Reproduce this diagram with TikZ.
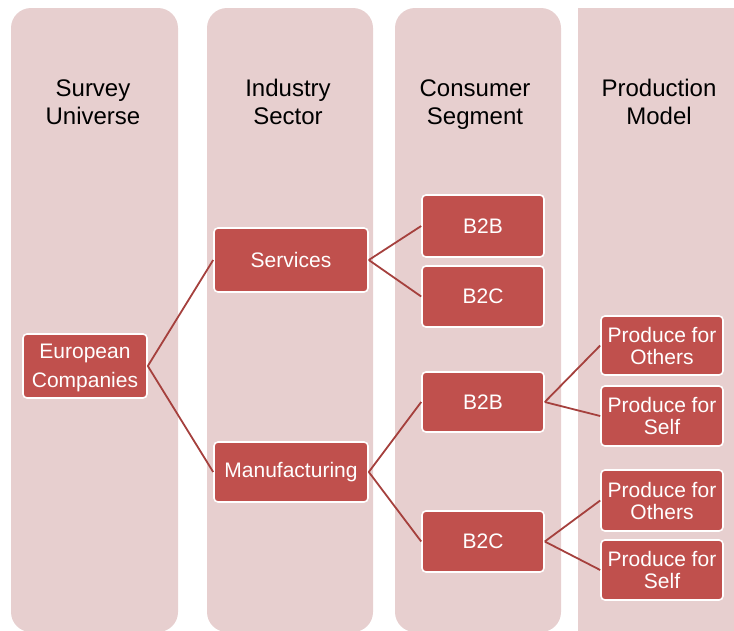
\documentclass[tikz,border=0pt]{standalone}
\usepackage{fontspec}
\setmainfont{Liberation Sans}
\begin{document}
\definecolor{lane}{HTML}{E7CFCF}
\definecolor{boxred}{HTML}{C0504D}
\definecolor{linkred}{HTML}{A5403D}
\begin{tikzpicture}[x=1pt,y=-1pt,
  lanebox/.style={fill=lane,draw=none},
  header/.style={align=center,text=black,text depth=0pt,font=\fontsize{24}{28}\selectfont},
  item/.style={fill=boxred,draw=white,line width=1.6pt,rounded corners=4pt,
    text=white,align=center,inner sep=0pt,minimum width=122pt},
  wide/.style={item,minimum width=154pt},
  link/.style={draw=linkred,line width=1.8pt}]
\useasboundingbox (0,0) rectangle (734,630);
% column backgrounds
\begin{scope}
\clip (0,0) rectangle (734,630);
\fill[lanebox,rounded corners=20pt] (11,8) rectangle (178,632);
\fill[lanebox,rounded corners=20pt] (207,8) rectangle (373,632);
\fill[lanebox,rounded corners=20pt] (395,8) rectangle (561,632);
\fill[lanebox] (578,8) rectangle (740,640);
\end{scope}
% column titles
\node[header] (h1) at (93,102) {Survey\\Universe};
\node[header] (h2) at (288,102) {Industry\\Sector};
\node[header] (h3) at (475,102) {Consumer\\Segment};
\node[header] (h4) at (659,102) {Production\\Model};
% boxes
\node[item,minimum width=124pt,minimum height=64pt,text depth=0pt,font=\fontsize{21}{29}\selectfont]
  (eu) at (85,366) {European\\Companies};
\node[wide,minimum height=64pt,font=\fontsize{21}{25}\selectfont] (srv) at (291,260) {Services};
\node[wide,minimum height=60pt,font=\fontsize{21}{25}\selectfont] (mfg) at (291,472) {Manufacturing};
\node[item,minimum height=62pt,font=\fontsize{21}{25}\selectfont] (sb2b) at (483,226) {B2B};
\node[item,minimum height=61pt,font=\fontsize{21}{25}\selectfont] (sb2c) at (483,296.5) {B2C};
\node[item,minimum height=60pt,font=\fontsize{21}{25}\selectfont] (mb2b) at (483,402) {B2B};
\node[item,minimum height=61pt,font=\fontsize{21}{25}\selectfont] (mb2c) at (483,541.5) {B2C};
\node[item,minimum height=59pt,font=\fontsize{21}{22}\selectfont] (bo) at (662,345.5) {Produce for\\Others};
\node[item,minimum height=60pt,font=\fontsize{21}{22}\selectfont] (bs) at (662,416) {Produce for\\Self};
\node[item,minimum height=61pt,font=\fontsize{21}{22}\selectfont] (co) at (662,500.5) {Produce for\\Others};
\node[item,minimum height=60pt,font=\fontsize{21}{22}\selectfont] (cs) at (662,570) {Produce for\\Self};
% connectors
\draw[link] (eu.east) -- (srv.west);
\draw[link] (eu.east) -- (mfg.west);
\draw[link] (srv.east) -- (sb2b.west);
\draw[link] (srv.east) -- (sb2c.west);
\draw[link] (mfg.east) -- (mb2b.west);
\draw[link] (mfg.east) -- (mb2c.west);
\draw[link] (mb2b.east) -- (bo.west);
\draw[link] (mb2b.east) -- (bs.west);
\draw[link] (mb2c.east) -- (co.west);
\draw[link] (mb2c.east) -- (cs.west);
\end{tikzpicture}
\end{document}
